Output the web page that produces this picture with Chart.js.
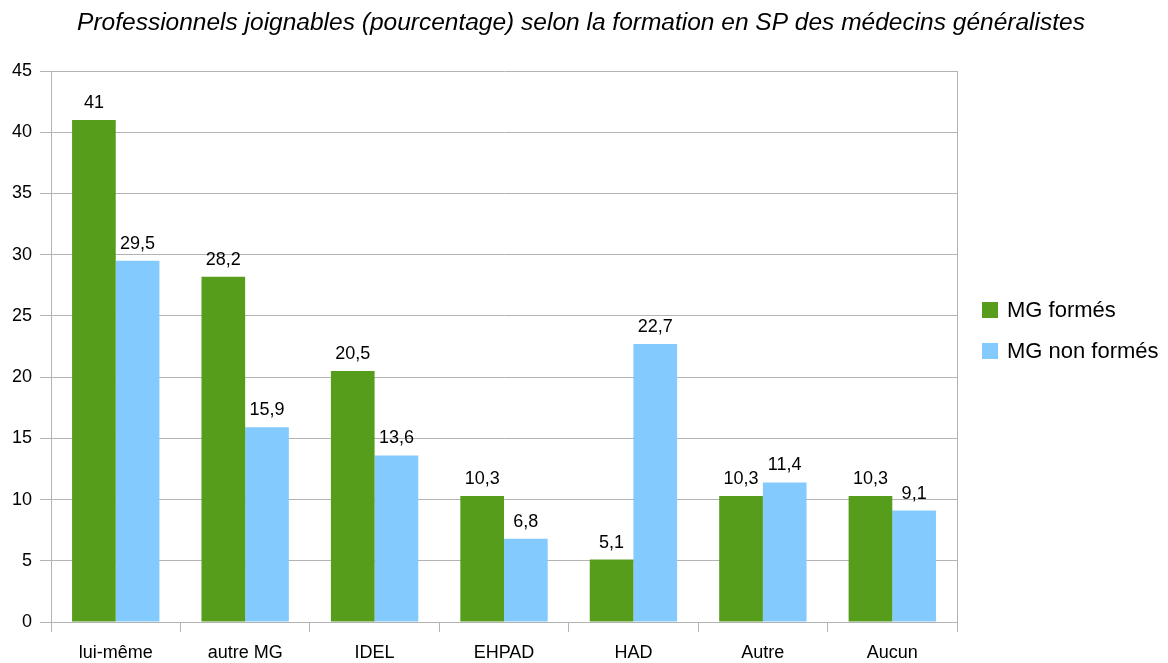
<!DOCTYPE html>
<html>
<head>
<meta charset="utf-8">
<script src="https://cdn.jsdelivr.net/npm/chart.js@4/dist/chart.umd.min.js"></script>
<style>
  body { margin: 0; background: #fff; }
  canvas { display: block; }
</style>
</head>
<body>
<canvas id="grafico" width="1168" height="663"></canvas>
<script>
// DONNEES
const titre = "Professionnels joignables (pourcentage) selon la formation en SP des médecins généralistes";
const categories = ["lui-même", "autre MG", "IDEL", "EHPAD", "HAD", "Autre", "Aucun"];
const formes = [41, 28.2, 20.5, 10.3, 5.1, 10.3, 10.3];
const nonFormes = [29.5, 15.9, 13.6, 6.8, 22.7, 11.4, 9.1];
const yTicks = [0, 5, 10, 15, 20, 25, 30, 35, 40, 45];

const FONT = "'Liberation Sans', Arial, sans-serif";
const GRILLE = "#b3b3b3";

// étiquettes de valeurs au-dessus des barres
const etiquettes = {
    id: "etiquettes",
    afterDatasetsDraw(chart) {
        const ctx = chart.ctx;
        ctx.save();
        ctx.font = "18px " + FONT;
        ctx.fillStyle = "#000";
        ctx.textAlign = "center";
        ctx.textBaseline = "alphabetic";
        chart.data.datasets.forEach((ds, i) => {
            chart.getDatasetMeta(i).data.forEach((bar, j) => {
                const txt = String(ds.data[j]).replace(".", ",");
                ctx.fillText(txt, bar.x, bar.y - 12);
            });
        });
        ctx.restore();
    }
};

// titre, catégories, bord droit, légende
const cadre = {
    id: "cadre",
    beforeDatasetsDraw(chart) {
        const a = chart.chartArea;
        const ctx = chart.ctx;
        ctx.save();
        ctx.strokeStyle = GRILLE;
        ctx.lineWidth = 1;
        ctx.beginPath();
        ctx.moveTo(Math.round(a.right) + 0.5, a.top);
        ctx.lineTo(Math.round(a.right) + 0.5, a.bottom);
        ctx.stroke();
        ctx.restore();
    },
    afterDraw(chart) {
        const ctx = chart.ctx;
        const x = chart.scales.x;
        ctx.save();
        // titre
        ctx.fillStyle = "#000";
        ctx.textAlign = "center";
        ctx.textBaseline = "alphabetic";
        ctx.font = "italic 24.5px " + FONT;
        ctx.fillText(titre, 581, 30);
        // catégories
        ctx.font = "18px " + FONT;
        ctx.textBaseline = "middle";
        categories.forEach((c, i) => {
            ctx.fillText(c, x.getPixelForTick(i), 653);
        });
        // légende
        ctx.textAlign = "left";
        ctx.font = "22px " + FONT;
        chart.data.datasets.forEach((ds, i) => {
            const y = 310 + i * 41;
            ctx.fillStyle = ds.backgroundColor;
            ctx.fillRect(982, y - 8, 16, 16);
            ctx.fillStyle = "#000";
            ctx.fillText(ds.label, 1007, y + 1);
        });
        ctx.restore();
    }
};

new Chart(document.getElementById("grafico"), {
    type: "bar",
    data: {
        labels: categories,
        datasets: [
            { label: "MG formés", data: formes, backgroundColor: "#579d1c" },
            { label: "MG non formés", data: nonFormes, backgroundColor: "#83caff" }
        ]
    },
    options: {
        responsive: false,
        animation: false,
        layout: { padding: { left: 4, right: 211, top: 71, bottom: 31 } },
        datasets: { bar: { categoryPercentage: 0.675, barPercentage: 1 } },
        plugins: {
            legend: { display: false },
            tooltip: { enabled: false },
            title: { display: false }
        },
        scales: {
            x: {
                grid: { offset: true, drawOnChartArea: false, color: GRILLE, tickLength: 10 },
                border: { color: GRILLE },
                ticks: { display: false }
            },
            y: {
                min: 0,
                max: 45,
                afterBuildTicks(axis) { axis.ticks = yTicks.map(v => ({ value: v })); },
                grid: { color: GRILLE, tickLength: 11 },
                border: { color: GRILLE },
                ticks: { color: "#000", font: { family: FONT, size: 18 }, padding: 8 }
            }
        }
    },
    plugins: [etiquettes, cadre]
});
</script>
</body>
</html>
